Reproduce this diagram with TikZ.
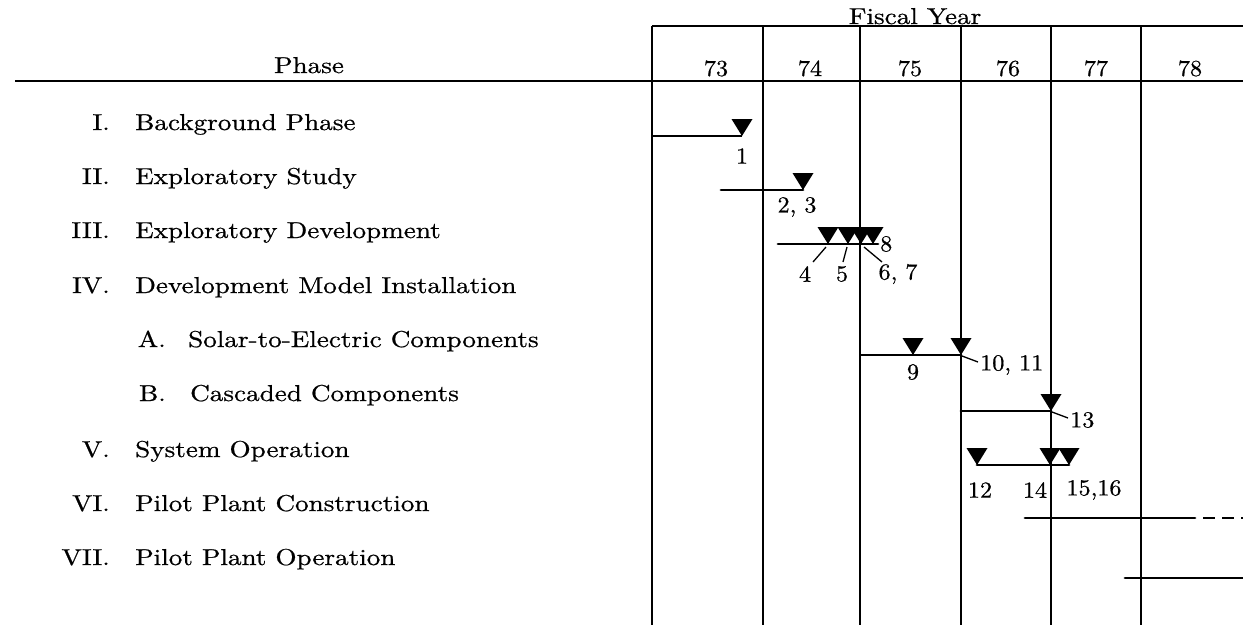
\documentclass[tikz,border=0pt]{standalone}
\usepackage{graphicx}
\usepackage{fontspec}
\setmainfont{lmroman10-regular.otf}[FakeBold=0.6]
\newcommand\stx[1]{\scalebox{1.18}[1]{#1}}
\newcommand\snum[1]{\scalebox{1.05}[1]{#1}}
\tikzset{
  gridline/.style={line width=1.8pt},
  bar/.style={line width=2.8pt, line cap=round},
  dashbar/.style={line width=1.8pt, dash pattern=on 12pt off 7pt},
  lead/.style={line width=1.3pt},
  txt/.style={font=\fontsize{23}{27}\selectfont, inner sep=0pt},
  milestone/.pic={\fill (-10.5,-17) -- (10.5,-17) -- (0,0) -- cycle;}
}
\begin{document}
\begin{tikzpicture}[x=1pt,y=-1pt]
\useasboundingbox (0,0) rectangle (1243,625);
% grid
\coordinate (tl) at (652,26); \coordinate (tr) at (1243,26);
\coordinate (hl) at (15,81); \coordinate (hr) at (1243,81);
\foreach \n/\x in {0/652,1/763,2/860,3/961,4/1051,5/1141}{
  \coordinate (v\n t) at (\x,26); \coordinate (v\n b) at (\x,625);
  \draw[gridline] (v\n t) -- (v\n b);
}
\draw[gridline] (tl) -- (tr);
\draw[gridline] (hl) -- (hr);
% headers
\node[txt, anchor=base] (fy) at (915,24) {\stx{Fiscal Year}};
\node[txt, anchor=base] (ph) at (309,73) {\stx{Phase}};
\foreach \yr/\x in {73/716,74/810,75/910,76/1008,77/1096,78/1190}{
  \node[txt, anchor=base] (y\yr) at (\x,76) {\snum{\yr}};
}
% row labels
\node[txt, anchor=base east] (n1) at (110,130) {\stx{I.}};
\node[txt, anchor=base west] (t1) at (135,130) {\stx{Background Phase}};
\node[txt, anchor=base east] (n2) at (110,184) {\stx{II.}};
\node[txt, anchor=base west] (t2) at (135,184) {\stx{Exploratory Study}};
\node[txt, anchor=base east] (n3) at (110,238) {\stx{III.}};
\node[txt, anchor=base west] (t3) at (135,238) {\stx{Exploratory Development}};
\node[txt, anchor=base east] (n4) at (110,293) {\stx{IV.}};
\node[txt, anchor=base west] (t4) at (135,293) {\stx{Development Model Installation}};
\node[txt, anchor=base east] (n4a) at (166,347) {\stx{A.}};
\node[txt, anchor=base west] (t4a) at (188,347) {\stx{Solar-to-Electric Components}};
\node[txt, anchor=base east] (n4b) at (166,401) {\stx{B.}};
\node[txt, anchor=base west] (t4b) at (190,401) {\stx{Cascaded Components}};
\node[txt, anchor=base east] (n5) at (110,457) {\stx{V.}};
\node[txt, anchor=base west] (t5) at (135,457) {\stx{System Operation}};
\node[txt, anchor=base east] (n6) at (110,511) {\stx{VI.}};
\node[txt, anchor=base west] (t6) at (135,511) {\stx{Pilot Plant Construction}};
\node[txt, anchor=base east] (n7) at (110,565) {\stx{VII.}};
\node[txt, anchor=base west] (t7) at (135,565) {\stx{Pilot Plant Operation}};
% row I
\coordinate (b1s) at (652,136); \coordinate (m1) at (742,136);
\draw[bar, line cap=butt] (b1s) -- (m1);
\pic at (m1) {milestone};
\node[txt] (l1) at (742,156) {\snum{1}};
% row II
\coordinate (b2s) at (721,190); \coordinate (m23) at (803,190);
\draw[bar] (b2s) -- (m23);
\pic at (m23) {milestone};
\node[txt] (l23) at (797,207) {\snum{2, 3}};
% row III
\coordinate (b3s) at (778,244); \coordinate (b3e) at (878,244);
\draw[bar] (b3s) -- (b3e);
\coordinate (m4) at (828,244); \coordinate (m5) at (848,244);
\coordinate (m67) at (861,244); \coordinate (m8) at (873,244);
\foreach \m in {m4,m5,m67,m8}{\pic at (\m) {milestone};}
\node[txt, anchor=west] (l8) at (880,244) {\snum{8}};
\node[txt] (l4) at (805,274) {\snum{4}};
\node[txt] (l5) at (842,274) {\snum{5}};
\node[txt] (l67) at (898,274) {\snum{6, 7}};
\coordinate (c4a) at (826,247); \coordinate (c4b) at (813,262);
\coordinate (c5a) at (847,247); \coordinate (c5b) at (843,262);
\coordinate (c6a) at (864,247); \coordinate (c6b) at (882,262);
\draw[lead] (c4a) -- (c4b);
\draw[lead] (c5a) -- (c5b);
\draw[lead] (c6a) -- (c6b);
% row IV A
\coordinate (b9s) at (861,355); \coordinate (m9) at (913,355); \coordinate (m1011) at (961,355);
\draw[bar] (b9s) -- (m1011);
\pic at (m9) {milestone};
\pic at (m1011) {milestone};
\node[txt] (l9) at (913,372) {\snum{9}};
\node[txt, anchor=west] (l1011) at (980,365) {\snum{10, 11}};
\coordinate (c10a) at (962,356); \coordinate (c10b) at (978,362);
\draw[lead] (c10a) -- (c10b);
% row IV B
\coordinate (b13s) at (961,411); \coordinate (m13) at (1051,411);
\draw[bar] (b13s) -- (m13);
\pic at (m13) {milestone};
\node[txt, anchor=west] (l13) at (1070,420) {\snum{13}};
\coordinate (c13a) at (1052,412); \coordinate (c13b) at (1068,418);
\draw[lead] (c13a) -- (c13b);
% row V
\coordinate (m12) at (977,465); \coordinate (m14) at (1050,465); \coordinate (m1516) at (1069,465);
\draw[bar] (m12) -- (m1516);
\foreach \m in {m12,m14,m1516}{\pic at (\m) {milestone};}
\node[txt] (l12) at (980,490) {\snum{12}};
\node[txt] (l14) at (1035,490) {\snum{14}};
\node[txt] (l1516) at (1094,490) {\snum{15,16}};
% row VI
\coordinate (b6s) at (1025,518); \coordinate (b6m) at (1195,518); \coordinate (b6e) at (1243,518);
\draw[bar] (b6s) -- (b6m);
\draw[dashbar] ([xshift=8pt]b6m) -- (b6e);
% row VII
\coordinate (b7s) at (1125,578); \coordinate (b7e) at (1243,578);
\draw[bar] (b7s) -- (b7e);
\end{tikzpicture}
\end{document}
